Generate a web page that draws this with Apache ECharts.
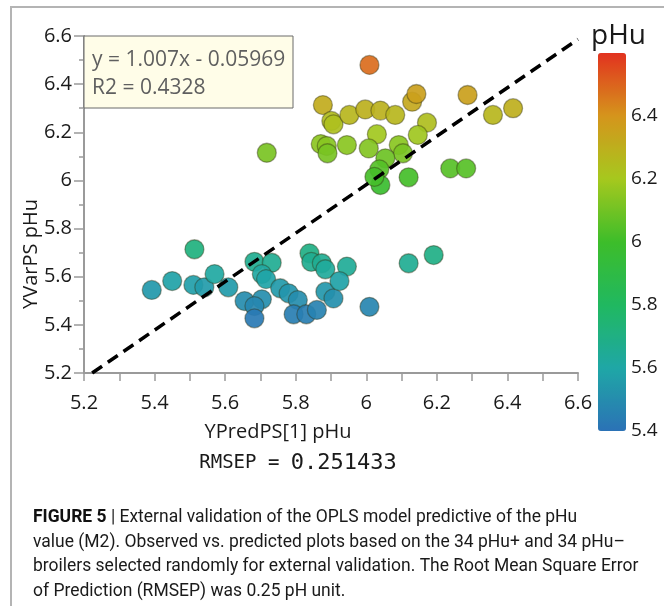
<!DOCTYPE html>
<html>
<head>
<meta charset="utf-8">
<script src="https://cdn.jsdelivr.net/npm/echarts@6/dist/echarts.min.js"></script>
<style>
html,body{margin:0;padding:0;background:#fff;}
#chart{width:671px;height:606px;}
</style>
</head>
<body>
<div id="chart"></div>
<script>
// ---- data ----
const predX = [6.009,5.877,5.901,5.907,5.952,5.997,6.040,6.082,6.130,6.142,6.287,6.359,6.416,6.172,6.146,6.030,
  5.871,5.888,5.890,5.945,6.007,6.092,6.104,6.054,6.037,6.040,6.023,6.120,6.238,6.283,5.718,
  5.392,5.450,5.513,5.510,5.541,5.570,5.609,5.655,5.683,5.732,5.704,5.716,5.704,5.683,5.683,5.756,
  5.780,5.806,5.794,5.830,5.860,5.839,5.844,5.874,5.884,5.907,5.884,5.945,5.924,6.009,6.120,6.191];
const obsY = [6.480,6.313,6.247,6.233,6.272,6.295,6.290,6.272,6.327,6.359,6.355,6.272,6.300,6.240,6.189,6.192,
  6.151,6.143,6.113,6.147,6.133,6.147,6.113,6.092,6.046,5.981,6.015,6.013,6.050,6.050,6.115,
  5.545,5.582,5.714,5.566,5.556,5.611,5.556,5.499,5.662,5.658,5.611,5.590,5.506,5.478,5.427,5.552,
  5.531,5.503,5.444,5.444,5.462,5.697,5.662,5.656,5.538,5.510,5.631,5.642,5.582,5.475,5.656,5.690];
const slope = 1.007;
const intercept = -0.05969;
const r2 = 0.4328;
const rmsep = '0.251433';
const axisTicks = [5.2, 5.4, 5.6, 5.8, 6, 6.2, 6.4, 6.6];
const colorTicks = [5.4, 5.6, 5.8, 6, 6.2, 6.4];
const colorRange = ['#2b72b6', '#1fa7a6', '#20b860', '#3dbd2a', '#a6c81e', '#d5951c', '#e2321f'];

const points = predX.map((x, i) => [x, obsY[i]]);
const axMin = axisTicks[0], axMax = axisTicks[axisTicks.length - 1];
const x0 = (axMin - intercept) / slope;
const fitLine = [[x0, slope * x0 + intercept], [axMax, slope * axMax + intercept]];

const chart = echarts.init(document.getElementById('chart'), null, {renderer: 'canvas'});
const labelFont = '"Open Sans", "Noto Sans", sans-serif';
const capFont = 'Roboto, "Noto Sans", sans-serif';
const monoFont = '"DejaVu Sans Mono", "Liberation Mono", monospace';

const option = {
  backgroundColor: '#ffffff',
  animation: false,
  title: {
    text: 'pHu', left: 586, top: 17,
    textStyle: {fontFamily: labelFont, fontSize: 28, fontWeight: 'normal', color: '#1a1a1a'}
  },
  grid: [
    {left: 84, top: 36, width: 494, height: 337},
    {left: 598, top: 53, width: 28, height: 378}
  ],
  xAxis: [{
    type: 'value', gridIndex: 0, min: axMin, max: axMax, interval: 0.2,
    axisLine: {lineStyle: {color: '#9a9a9a', width: 2}},
    axisTick: {length: 8, lineStyle: {color: '#9a9a9a', width: 1.5}},
    minorTick: {show: true, splitNumber: 2, length: 8, lineStyle: {color: '#9a9a9a', width: 1.5}},
    splitLine: {show: false},
    axisLabel: {margin: 20, fontFamily: labelFont, fontSize: 20, color: '#1a1a1a'}
  }, {
    type: 'value', gridIndex: 1, min: 0, max: 1, show: false
  }],
  yAxis: [{
    type: 'value', gridIndex: 0, min: axMin, max: axMax, interval: 0.2,
    axisLine: {show: true, lineStyle: {color: '#9a9a9a', width: 2}},
    axisTick: {show: true, length: 10, lineStyle: {color: '#9a9a9a', width: 1.5}},
    minorTick: {show: true, splitNumber: 2, length: 5, lineStyle: {color: '#9a9a9a', width: 1.5}},
    splitLine: {show: false},
    axisLabel: {margin: 12, fontFamily: labelFont, fontSize: 20, color: '#1a1a1a'}
  }, {
    type: 'value', gridIndex: 1, position: 'right', min: 5.4, max: 6.6, interval: 0.2,
    axisLine: {show: false}, axisTick: {show: false}, splitLine: {show: false},
    axisLabel: {
      margin: 5, fontFamily: labelFont, fontSize: 19, color: '#1a1a1a',
      formatter: v => colorTicks.some(t => Math.abs(t - v) < 1e-6) ? String(+v.toFixed(1)) : ''
    }
  }],
  visualMap: {
    type: 'continuous', dimension: 1, seriesIndex: 0,
    min: 5.4, max: 6.6, calculable: false, padding: 0,
    left: 598, top: 53, itemWidth: 28, itemHeight: 378,
    inRange: {color: colorRange},
    hoverLink: false
  },
  series: [{
    type: 'scatter', xAxisIndex: 0, yAxisIndex: 0,
    data: points, symbolSize: 19, z: 2,
    itemStyle: {opacity: 0.92, borderColor: 'rgba(50,50,20,0.45)', borderWidth: 1.3}
  }, {
    type: 'line', xAxisIndex: 0, yAxisIndex: 0,
    data: fitLine, symbol: 'none', z: 5,
    lineStyle: {color: '#000', width: 3.5, type: [12, 7]}
  }],
  graphic: [
    {type: 'polyline', shape: {points: [[11, 620], [11, 7], [664, 7]]},
     style: {stroke: '#b4b4b4', lineWidth: 2, fill: null}, silent: true},
    {type: 'rect', shape: {x: 84, y: 36, width: 209, height: 72},
     style: {fill: '#fffde8', stroke: '#6a6a6a', lineWidth: 1}, z: 10},
    {type: 'text', x: 92, y: 60, z: 11,
     style: {text: 'y = ' + slope + 'x - ' + Math.abs(intercept), fontFamily: labelFont, fontSize: 21, fill: '#5f5f5f', verticalAlign: 'middle'}},
    {type: 'text', x: 92, y: 88, z: 11,
     style: {text: 'R2 = ' + r2, fontFamily: labelFont, fontSize: 21, fill: '#5f5f5f', verticalAlign: 'middle'}},
    {type: 'text', x: 31, y: 254, rotation: Math.PI / 2, z: 11,
     style: {text: 'YVarPS pHu', fontFamily: labelFont, fontSize: 20, fill: '#1a1a1a', align: 'center', verticalAlign: 'middle'}},
    {type: 'text', x: 278, y: 432, z: 11,
     style: {text: 'YPredPS[1] pHu', fontFamily: labelFont, fontSize: 20, fill: '#1a1a1a', align: 'center', verticalAlign: 'middle'}},
    {type: 'text', x: 298, y: 463, z: 11,
     style: {text: 'RMSEP = {n|' + rmsep + '}', fontFamily: monoFont, fontSize: 19, fill: '#1a1a1a', align: 'center', verticalAlign: 'middle',
       rich: {n: {fontFamily: monoFont, fontSize: 22, fill: '#1a1a1a'}}}},
    {type: 'text', x: 33, y: 505, z: 11, scaleX: 0.92,
     style: {
       text: '{b|FIGURE 5} | External validation of the OPLS model predictive of the pHu\n' +
             'value (M2). Observed vs. predicted plots based on the 34 pHu+ and 34 pHu\u2013\n' +
             'broilers selected randomly for external validation. The Root Mean Square Error\n' +
             'of Prediction (RMSEP) was 0.25 pH unit.',
       fontFamily: capFont, fontSize: 19, lineHeight: 24.5, fill: '#1a1a1a',
       rich: {b: {fontFamily: capFont, fontSize: 19, fontWeight: 'bold', fill: '#111'}}
     }}
  ]
};
chart.setOption(option);
</script>
</body>
</html>
